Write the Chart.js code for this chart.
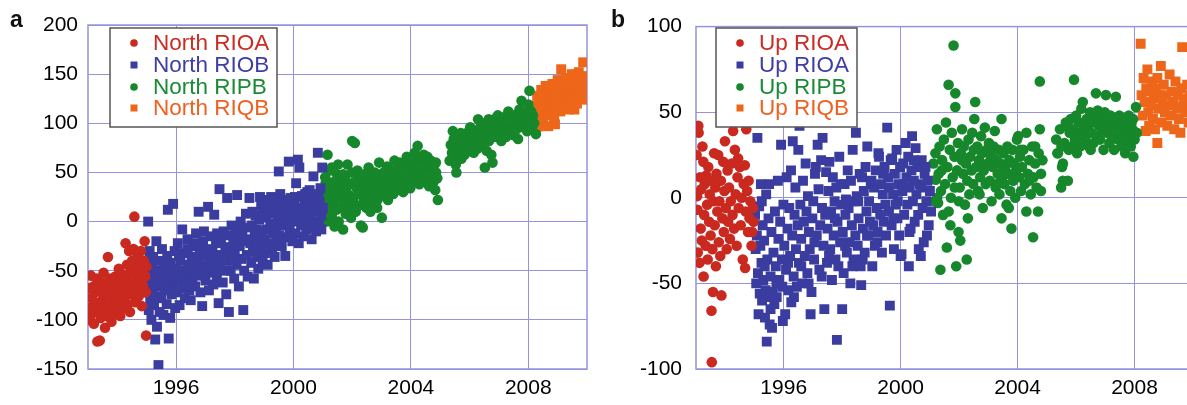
<!DOCTYPE html>
<html>
<head>
<meta charset="utf-8">
<script src="https://cdn.jsdelivr.net/npm/chart.js@4/dist/chart.umd.min.js"></script>
<style>
  html, body { margin: 0; padding: 0; background: #fff; overflow: hidden; width: 1187px; height: 405px; }
  .panel { position: absolute; top: 0; width: 600px; height: 405px; }
  .tag { position: absolute; top: 6px; font: bold 23px "Liberation Sans", Arial, sans-serif; color: #111; }
</style>
</head>
<body>
<div class="panel" style="left:0"><canvas id="chartA" width="600" height="405"></canvas></div>
<div class="panel" style="left:600px"><canvas id="chartB" width="600" height="405"></canvas></div>
<div class="tag" style="left:10px">a</div>
<div class="tag" style="left:611px">b</div>
<script>
// --- data: [decimal year, value] ---
var yearTicks = [1996, 2000, 2004, 2008];
var northLabels = ['North RIOA', 'North RIOB', 'North RIPB', 'North RIQB'];
var upLabels = ['Up RIOA', 'Up RIOA', 'Up RIPB', 'Up RIQB'];

var northRIOA = [[1993.03,-68],[1993.05,-88],[1993.07,-100],[1993.1,-55],[1993.12,-78],[1993.15,-93],[1993.18,-66],[1993.2,-104],[1993.22,-82],[1993.25,-72],[1993.28,-90],[1993.3,-58],[1993.32,-122],[1993.35,-85],[1993.38,-70],[1993.4,-121],[1993.43,-98],[1993.45,-62],[1993.48,-80],[1993.5,-92],[1993.53,-52],[1993.55,-74],[1993.58,-108],[1993.6,-86],[1993.63,-66],[1993.65,-96],[1993.68,-36],[1993.7,-76],[1993.73,-58],[1993.75,-88],[1993.78,-70],[1993.8,-102],[1993.83,-62],[1993.85,-82],[1993.88,-94],[1993.9,-68],[1993.93,-56],[1993.95,-78],[1993.98,-90],[1994.0,-64],[1994.03,-84],[1994.05,-48],[1994.08,-72],[1994.1,-96],[1994.13,-60],[1994.15,-80],[1994.18,-54],[1994.2,-88],[1994.23,-68],[1994.25,-76],[1994.28,-22],[1994.3,-58],[1994.33,-44],[1994.35,-84],[1994.38,-66],[1994.4,-30],[1994.43,-92],[1994.45,-52],[1994.48,-74],[1994.5,-40],[1994.53,-62],[1994.55,-28],[1994.58,5],[1994.6,-82],[1994.63,-48],[1994.65,-68],[1994.68,-36],[1994.7,-56],[1994.73,-76],[1994.75,-44],[1994.78,-60],[1994.8,-30],[1994.83,-86],[1994.85,-50],[1994.88,-66],[1994.9,-40],[1994.93,-20],[1994.95,-56],[1994.97,-72],[1994.98,-116],[1994.99,-46]];

var northRIOB = [[1995.02,-45],[1995.04,-72],[1995.05,0],[1995.07,-90],[1995.09,-58],[1995.1,-30],[1995.12,-80],[1995.14,-62],[1995.16,-100],[1995.18,-48],[1995.2,-70],[1995.22,-36],[1995.25,-85],[1995.27,-55],[1995.29,-120],[1995.31,-66],[1995.33,-20],[1995.35,-107],[1995.37,-76],[1995.4,-146],[1995.42,-50],[1995.44,-92],[1995.46,-64],[1995.48,-40],
  [1995.5,-78],[1995.52,-28],[1995.55,-60],[1995.57,-95],[1995.6,-45],[1995.62,-70],[1995.65,-52],[1995.68,-84],[1995.7,-35],[1995.72,12],[1995.75,-119],[1995.77,-62],[1995.8,-98],[1995.82,-42],[1995.85,-74],[1995.87,-55],[1995.9,18],[1995.92,-66],[1995.95,-30],[1995.97,-88],
  [1996.0,-48],[1996.03,-72],[1996.06,-22],[1996.09,-60],[1996.12,-85],[1996.15,-40],[1996.18,-56],[1996.21,-8],[1996.24,-68],[1996.27,-32],[1996.3,-78],[1996.33,-50],[1996.36,-62],[1996.39,-18],[1996.42,-44],[1996.45,-70],[1996.48,-54],
  [1996.5,-80],[1996.53,-36],[1996.56,-58],[1996.59,-25],[1996.62,-48],[1996.65,-66],[1996.68,-12],[1996.71,-40],[1996.74,-55],[1996.77,10],[1996.8,-30],[1996.83,-72],[1996.86,-45],[1996.89,-86],[1996.92,-20],[1996.95,-52],[1996.98,-35],
  [1997.0,-60],[1997.03,-28],[1997.06,-45],[1997.09,15],[1997.12,-70],[1997.15,-38],[1997.18,-15],[1997.21,-52],[1997.24,-30],[1997.27,-64],[1997.3,7],[1997.33,-42],[1997.36,-22],[1997.39,-56],[1997.42,-34],[1997.45,-83],[1997.48,33],
  [1997.5,-48],[1997.53,-18],[1997.56,-36],[1997.59,-62],[1997.62,-10],[1997.65,-40],[1997.68,-26],[1997.71,-74],[1997.74,24],[1997.77,-32],[1997.8,-92],[1997.83,-14],[1997.86,-50],[1997.89,-4],[1997.92,-38],[1997.95,-22],[1997.98,-58],
  [1998.0,-30],[1998.03,-8],[1998.06,-44],[1998.08,27],[1998.11,-16],[1998.14,-66],[1998.17,-25],[1998.2,0],[1998.23,-38],[1998.26,-12],[1998.29,-90],[1998.32,-50],[1998.35,-20],[1998.38,8],[1998.41,-34],[1998.44,-56],[1998.47,-6],
  [1998.5,24],[1998.53,-22],[1998.56,-42],[1998.59,-4],[1998.62,-30],[1998.65,-58],[1998.68,-14],[1998.71,6],[1998.74,-36],[1998.77,-20],[1998.8,-48],[1998.83,2],[1998.86,25],[1998.89,-26],[1998.92,-10],[1998.95,-40],[1998.98,12],
  [1999.0,-18],[1999.03,-32],[1999.06,4],[1999.09,-8],[1999.12,-44],[1999.15,14],[1999.18,-22],[1999.21,-2],[1999.24,25],[1999.27,-28],[1999.3,-12],[1999.33,8],[1999.36,-36],[1999.39,-6],[1999.42,18],[1999.45,-20],[1999.48,0],
  [1999.5,51],[1999.52,-14],[1999.55,28],[1999.58,6],[1999.6,-25],[1999.63,12],[1999.66,-4],[1999.69,20],[1999.72,-35],[1999.75,2],[1999.78,-16],[1999.81,14],[1999.84,61],[1999.87,-8],[1999.9,24],[1999.93,4],[1999.96,-20],[1999.98,10],
  [2000.0,0],[2000.03,18],[2000.06,-12],[2000.09,39],[2000.12,6],[2000.15,63],[2000.18,-22],[2000.2,55],[2000.23,14],[2000.26,-4],[2000.29,26],[2000.32,8],[2000.35,-15],[2000.38,20],[2000.41,2],[2000.44,-8],[2000.47,30],
  [2000.5,12],[2000.53,-6],[2000.56,22],[2000.59,4],[2000.62,-18],[2000.65,16],[2000.68,46],[2000.71,0],[2000.74,28],[2000.77,-10],[2000.8,10],[2000.83,70],[2000.86,-2],[2000.89,20],[2000.92,34],[2000.95,6],[2000.98,55],[2001.0,14],
  [1995.15,-40],[1995.45,-58],[1995.78,-48],[1996.1,-35],[1996.4,-28],[1996.7,-22],[1996.95,-10],[1997.2,-48],[1997.4,-12],[1997.7,-50],[1997.95,-40],[1998.15,-6],[1998.4,-18],[1998.6,10],[1998.75,-8],[1998.9,16],[1999.1,22],[1999.2,10],[1999.4,-4],[1999.55,15],[1999.7,5],[1999.85,22],[2000.05,25],[2000.25,12],[2000.4,28],[2000.55,32],[2000.7,18],[2000.85,24],[2000.95,-8],[2000.35,-2]];

var northRIPB = [[2001.02,30],[2001.05,10],[2001.08,45],[2001.11,22],[2001.14,0],[2001.16,68],[2001.19,36],[2001.22,15],[2001.25,52],[2001.28,28],[2001.31,5],[2001.34,40],[2001.37,20],[2001.4,-5],[2001.43,33],[2001.46,12],[2001.49,48],
  [2001.52,58],[2001.54,0],[2001.57,25],[2001.6,40],[2001.63,14],[2001.66,32],[2001.69,-8],[2001.72,20],[2001.75,45],[2001.78,8],[2001.81,30],[2001.84,58],[2001.87,18],[2001.9,38],[2001.93,26],[2001.96,4],[2001.99,50],
  [2002.0,82],[2002.03,22],[2002.06,40],[2002.09,80],[2002.12,10],[2002.15,34],[2002.18,52],[2002.21,16],[2002.24,28],[2002.27,44],[2002.3,-4],[2002.33,36],[2002.36,-6],[2002.39,24],[2002.42,48],[2002.45,30],[2002.48,14],
  [2002.5,40],[2002.53,20],[2002.56,55],[2002.59,32],[2002.62,10],[2002.65,46],[2002.68,26],[2002.71,38],[2002.74,18],[2002.77,50],[2002.8,30],[2002.83,42],[2002.86,22],[2002.89,35],[2002.92,60],[2002.95,28],[2002.98,44],
  [2003.01,4],[2003.04,38],[2003.07,50],[2003.1,26],[2003.13,44],[2003.16,34],[2003.19,56],[2003.22,22],[2003.25,40],[2003.28,48],[2003.31,30],[2003.34,52],[2003.37,36],[2003.4,28],[2003.44,62],[2003.47,42],
  [2003.5,46],[2003.53,32],[2003.56,54],[2003.59,40],[2003.62,60],[2003.65,36],[2003.68,50],[2003.71,44],[2003.74,30],[2003.77,58],[2003.8,48],[2003.83,38],[2003.86,66],[2003.89,52],[2003.92,42],[2003.95,56],[2003.98,34],
  [2004.01,50],[2004.04,62],[2004.07,40],[2004.1,56],[2004.13,70],[2004.16,46],[2004.19,58],[2004.23,77],[2004.26,52],[2004.29,38],[2004.32,64],[2004.35,48],[2004.38,58],[2004.41,42],[2004.44,68],[2004.47,54],
  [2004.5,60],[2004.53,44],[2004.56,66],[2004.59,50],[2004.62,36],[2004.65,56],[2004.68,62],[2004.71,46],[2004.74,54],[2004.77,40],[2004.8,58],[2004.83,32],[2004.86,50],[2004.9,44],[2004.92,22],
  [2005.32,62],[2005.36,78],[2005.4,70],[2005.43,92],[2005.46,84],[2005.5,66],[2005.53,58],[2005.55,50],[2005.58,76],[2005.62,88],[2005.65,70],[2005.68,80],[2005.72,64],[2005.76,74],
  [2005.8,84],[2005.83,68],[2005.86,78],[2005.9,90],[2005.94,72],[2005.98,82],[2006.02,96],[2006.06,76],[2006.1,86],[2006.14,70],[2006.18,92],[2006.22,80],[2006.26,74],[2006.29,104],
  [2006.32,88],[2006.36,96],[2006.4,78],[2006.44,100],[2006.48,84],[2006.52,55],[2006.55,92],[2006.58,72],[2006.62,98],[2006.66,82],[2006.7,90],[2006.74,68],[2006.78,60],[2006.8,94],
  [2006.84,104],[2006.88,86],[2006.92,96],[2006.96,108],[2007.0,90],[2007.04,100],[2007.08,82],[2007.12,96],[2007.16,106],[2007.2,92],[2007.24,86],[2007.28,100],
  [2007.32,112],[2007.36,94],[2007.4,104],[2007.44,98],[2007.48,88],[2007.52,108],[2007.56,100],[2007.6,94],[2007.65,84],[2007.68,106],[2007.72,98],[2007.77,123],[2007.8,104],[2007.84,96],[2007.88,110],[2007.92,100],[2007.96,92],[2008.0,119],[2008.04,133],[2008.08,104],[2008.12,96],[2008.16,108],[2008.2,100],[2008.26,89],
  [2001.1,40],[2001.3,55],[2001.45,25],[2001.7,48],[2001.95,15],[2002.2,42],[2002.4,20],[2002.6,48],[2002.85,14],[2003.1,46],[2003.3,40],[2003.55,44],[2003.75,50],[2003.9,60],[2004.1,66],[2004.3,56],[2004.6,48],[2004.85,60],[2005.45,74],[2005.7,90],[2006.0,84],[2006.4,90],[2006.65,104],[2007.0,98],[2007.35,102],[2007.7,114],[2008.1,112]];

var northRIQB = [[2008.22,104],[2008.25,118],[2008.28,96],[2008.3,128],[2008.33,110],[2008.36,97],[2008.38,122],[2008.41,106],[2008.44,134],[2008.47,115],[2008.5,100],[2008.53,126],[2008.56,112],[2008.59,138],[2008.62,118],[2008.65,128],[2008.68,97],[2008.7,108],[2008.73,132],[2008.76,120],[2008.79,112],[2008.82,140],[2008.85,126],[2008.88,104],[2008.91,99],[2008.94,130],[2008.97,118],[2009.0,144],[2009.03,124],[2009.06,134],[2009.09,112],[2009.12,155],[2009.15,128],[2009.18,138],[2009.21,118],[2009.24,130],[2009.27,146],[2009.3,122],[2009.33,136],[2009.36,126],[2009.39,114],[2009.42,142],[2009.45,132],[2009.48,150],[2009.51,124],[2009.54,138],[2009.57,114],[2009.6,146],[2009.63,130],[2009.66,120],[2009.69,140],[2009.72,152],[2009.75,128],[2009.78,136],[2009.81,144],[2009.84,124],[2009.87,162],[2009.9,134],[2009.93,148],[2009.96,140],[2009.98,126]];

var upRIOA = [[1993.02,25],[1993.04,1],[1993.05,-7],[1993.06,-32],[1993.08,42],[1993.09,38],[1993.12,-38],[1993.14,12],[1993.16,-18],[1993.18,5],[1993.2,-25],[1993.22,30],[1993.25,21],[1993.26,-46],[1993.28,-10],[1993.3,8],[1993.33,-28],[1993.35,13],[1993.38,-4],[1993.4,-36],[1993.42,18],[1993.45,-14],[1993.47,2],[1993.5,-22],[1993.52,10],[1993.53,-66],[1993.54,-96],[1993.56,-30],[1993.58,-55],[1993.6,-2],[1993.62,26],[1993.64,-16],[1993.66,6],[1993.68,-40],[1993.7,14],[1993.73,-8],[1993.76,25],[1993.78,-26],[1993.8,-2],[1993.83,-34],[1993.85,10],[1993.87,-57],[1993.9,-12],[1993.93,21],[1993.95,-20],[1993.97,4],[1993.99,33],[1994.02,-6],[1994.05,-30],[1994.08,16],[1994.1,-14],[1994.13,6],[1994.16,-24],[1994.19,-2],[1994.22,20],[1994.25,-10],[1994.27,39],[1994.3,-18],[1994.33,28],[1994.36,2],[1994.39,-28],[1994.42,12],[1994.44,23],[1994.46,-6],[1994.5,18],[1994.53,-16],[1994.56,0],[1994.6,-36],[1994.63,8],[1994.67,19],[1994.68,-41],[1994.7,-8],[1994.72,40],[1994.75,4],[1994.78,-20],[1994.8,10],[1994.83,-12],[1994.86,-2],[1994.9,-28],[1994.92,-20],[1994.95,-6],[1994.97,-14]];

var upRIOB = [[1995.02,-10],[1995.04,-30],[1995.06,-50],[1995.08,-22],[1995.1,35],[1995.12,-44],[1995.14,-68],[1995.16,-5],[1995.18,-56],[1995.2,-28],[1995.22,8],[1995.24,-38],[1995.26,-60],[1995.28,-16],[1995.3,-48],[1995.33,-25],[1995.36,-70],[1995.38,-54],[1995.4,2],[1995.42,-84],[1995.44,-36],[1995.46,-58],[1995.48,-12],
  [1995.5,8],[1995.52,-74],[1995.55,-46],[1995.58,-20],[1995.6,-76],[1995.62,-55],[1995.65,-32],[1995.68,-62],[1995.7,-8],[1995.73,-40],[1995.76,-58],[1995.8,10],[1995.82,-24],[1995.85,-48],[1995.88,-14],[1995.91,31],[1995.94,-36],[1995.97,-72],[1995.99,-4],
  [1996.02,-28],[1996.05,-68],[1996.08,-42],[1996.1,12],[1996.13,-18],[1996.16,-54],[1996.19,-6],[1996.22,-34],[1996.25,16],[1996.26,-61],[1996.29,-22],[1996.31,33],[1996.34,-46],[1996.37,-10],[1996.4,6],[1996.42,-30],[1996.45,-52],[1996.48,-16],
  [1996.5,28],[1996.52,-38],[1996.54,42],[1996.57,-4],[1996.6,-24],[1996.63,-50],[1996.66,10],[1996.69,-14],[1996.72,-34],[1996.75,20],[1996.78,-8],[1996.81,-44],[1996.83,1],[1996.86,-20],[1996.89,-30],[1996.92,-68],[1996.95,-55],[1996.98,-12],
  [1997.01,-2],[1997.04,-36],[1997.07,14],[1997.1,18],[1997.13,-22],[1997.16,31],[1997.19,5],[1997.22,-42],[1997.25,-16],[1997.28,22],[1997.31,-6],[1997.33,35],[1997.36,-28],[1997.39,-65],[1997.42,-10],[1997.45,15],[1997.48,-38],
  [1997.5,-18],[1997.53,4],[1997.56,21],[1997.59,-30],[1997.62,-8],[1997.65,-48],[1997.68,12],[1997.71,-22],[1997.74,-2],[1997.77,-36],[1997.8,6],[1997.82,-83],[1997.84,-14],[1997.87,-40],[1997.9,24],[1997.93,-26],[1997.96,-4],[1998.0,-65],
  [1998.02,-20],[1998.05,-44],[1998.08,8],[1998.11,-10],[1998.13,-1],[1998.16,-32],[1998.19,16],[1998.22,-6],[1998.25,-26],[1998.28,-50],[1998.3,10],[1998.33,-16],[1998.36,28],[1998.39,-36],[1998.42,-2],[1998.45,-22],[1998.47,38],
  [1998.5,1],[1998.53,-28],[1998.56,-12],[1998.6,14],[1998.63,-40],[1998.65,-51],[1998.68,12],[1998.71,-18],[1998.74,4],[1998.77,-32],[1998.8,18],[1998.83,-8],[1998.86,30],[1998.89,-22],[1998.92,-2],[1998.95,-14],[1998.98,8],
  [1999.03,-40],[1999.06,-16],[1999.09,6],[1999.12,-28],[1999.15,16],[1999.18,-6],[1999.21,-20],[1999.24,26],[1999.26,24],[1999.3,-10],[1999.33,8],[1999.36,-32],[1999.39,2],[1999.42,-14],[1999.45,18],[1999.48,-4],
  [1999.5,-22],[1999.54,41],[1999.57,12],[1999.6,-8],[1999.63,-63],[1999.66,22],[1999.69,-16],[1999.71,23],[1999.74,2],[1999.77,-30],[1999.8,14],[1999.83,-4],[1999.86,28],[1999.89,-12],[1999.92,8],[1999.95,-22],[1999.98,18],
  [2000.0,-34],[2000.03,-33],[2000.06,4],[2000.09,20],[2000.12,-10],[2000.17,32],[2000.2,12],[2000.23,-4],[2000.26,24],[2000.28,-40],[2000.31,6],[2000.34,-18],[2000.37,16],[2000.39,36],[2000.42,-2],[2000.45,10],[2000.48,-14],
  [2000.51,29],[2000.54,2],[2000.57,18],[2000.6,-10],[2000.62,-30],[2000.65,8],[2000.69,-34],[2000.72,22],[2000.75,-6],[2000.79,-26],[2000.82,14],[2000.85,18],[2000.88,-2],[2000.92,10],[2000.96,-16],[2001.0,4],[2001.04,-8],
  [1995.25,-2],[1995.35,-40],[1995.55,-65],[1995.75,-50],[1995.95,-52],[1996.15,-38],[1996.35,-58],[1996.6,-40],[1996.85,-50],[1997.05,-26],[1997.3,-46],[1997.55,-34],[1997.75,-12],[1997.95,8],[1998.1,-28],[1998.35,-40],[1998.55,-2],[1998.7,-36],[1998.85,-22],[1999.0,10],[1999.2,-26],[1999.4,14],[1999.6,6],[1999.75,-12],[1999.9,-2],[2000.1,8],[2000.3,-20],[2000.45,22],[2000.7,6],[2000.9,-22]];

var upRIPB = [[2001.12,20],[2001.15,-2],[2001.19,26],[2001.2,10.5],[2001.24,40],[2001.28,-3],[2001.3,14],[2001.33,30],[2001.36,-42],[2001.38,4],[2001.42,22],[2001.45,-10],[2001.48,34],
  [2001.52,8],[2001.55,44],[2001.58,-29],[2001.6,18],[2001.64,66],[2001.64,-8],[2001.68,28],[2001.72,0],[2001.75,38],[2001.78,12],[2001.81,89],[2001.84,24],[2001.87,61],[2001.87,53],[2001.9,-40],[2001.93,16],[2001.96,32],[2001.98,-20],[2001.99,-2],
  [2002.02,6],[2002.04,-25],[2002.06,26],[2002.1,40],[2002.13,14],[2002.16,30],[2002.2,-4],[2002.23,20],[2002.26,-36],[2002.28,10],[2002.32,34],[2002.35,2],[2002.38,24],[2002.42,16],[2002.45,38],[2002.48,8],
  [2002.52,46],[2002.55,56],[2002.58,18],[2002.62,30],[2002.65,4],[2002.68,22],[2002.72,12],[2002.75,36],[2002.78,26],[2002.81,-6],[2002.84,16],[2002.88,41],[2002.91,8],[2002.94,28],[2002.97,20],
  [2003.02,32],[2003.05,10],[2003.08,24],[2003.11,-2],[2003.15,18],[2003.18,30],[2003.22,39],[2003.25,6],[2003.28,22],[2003.32,14],[2003.35,28],[2003.38,2],[2003.42,20],[2003.45,46],[2003.45,-12],[2003.48,12],
  [2003.52,26],[2003.55,8],[2003.58,18],[2003.62,-4],[2003.65,30],[2003.68,14],[2003.72,22],[2003.75,4],[2003.79,-18],[2003.82,28],[2003.85,10],[2003.88,20],[2003.92,0],[2003.95,16],[2003.98,34],
  [2004.02,36],[2004.05,12],[2004.08,24],[2004.12,4],[2004.15,18],[2004.2,28],[2004.25,8],[2004.3,38],[2004.3,-8],[2004.35,14],[2004.4,22],[2004.45,2],[2004.5,30],[2004.53,-23],[2004.55,12],[2004.6,20],[2004.65,6],[2004.7,-8],[2004.72,26],[2004.76,68],[2004.76,40],[2004.8,14],[2004.85,22],
  [2005.32,34],[2005.36,26],[2005.38,26],[2005.45,40],[2005.49,6],[2005.52,18],[2005.55,10],[2005.55,20],[2005.6,32],[2005.65,44],[2005.72,10],[2005.75,28],[2005.78,38],
  [2005.82,46],[2005.86,30],[2005.9,40],[2005.93,69],[2005.96,34],[2006.0,48],[2006.03,26],[2006.06,38],[2006.1,44],[2006.14,30],[2006.18,52],[2006.22,36],[2006.23,56],[2006.27,42],
  [2006.32,34],[2006.36,46],[2006.4,40],[2006.44,30],[2006.48,50],[2006.52,38],[2006.56,44],[2006.6,32],[2006.64,48],[2006.68,61],[2006.72,36],[2006.74,51],[2006.78,42],
  [2006.82,34],[2006.86,46],[2006.9,40],[2006.94,28],[2006.98,50],[2007.02,60],[2007.06,38],[2007.1,44],[2007.14,32],[2007.18,48],[2007.22,36],[2007.26,42],[2007.3,28],
  [2007.36,59],[2007.4,44],[2007.44,34],[2007.48,48],[2007.52,38],[2007.56,30],[2007.6,46],[2007.64,40],[2007.68,26],[2007.72,42],[2007.76,36],[2007.8,48],[2007.84,32],[2007.87,30],[2007.9,44],[2007.93,40],[2007.96,24],[2008.0,34],[2008.05,53],[2008.08,38],
  [2001.25,0],[2001.4,16],[2001.7,-16],[2001.85,6],[2002.1,22],[2002.3,-12],[2002.5,28],[2002.7,2],[2002.9,18],[2003.1,26],[2003.3,8],[2003.5,16],[2003.7,-6],[2003.9,12],[2004.1,28],[2004.4,10],[2004.6,30],[2004.8,4],[2005.5,30],[2005.7,42],[2006.1,36],[2006.5,28],[2006.9,46],[2007.2,40],[2007.5,40],[2007.7,34],[2007.95,46]];

var upRIQB = [[2008.21,90],[2008.24,60],[2008.28,48],[2008.31,70],[2008.34,56],[2008.38,39],[2008.4,64],[2008.44,75],[2008.47,50],[2008.5,42],[2008.53,62],[2008.56,54],[2008.6,68],[2008.63,46],[2008.66,58],[2008.7,40],[2008.73,64],[2008.78,70],[2008.78,32],[2008.82,52],[2008.86,60],[2008.9,77],[2008.93,44],[2008.96,56],[2009.0,66],[2009.04,50],[2009.08,60],[2009.12,42],[2009.16,54],[2009.2,72],[2009.24,48],[2009.28,62],[2009.32,56],[2009.36,40],[2009.4,68],[2009.44,52],[2009.48,60],[2009.52,46],[2009.57,38],[2009.6,64],[2009.63,88],[2009.66,54],[2009.7,58],[2009.75,50],[2009.8,66],[2009.85,44],[2009.9,60],[2009.95,52]];

// colours / shapes of the four series
var seriesColors = ['#c9291f', '#3a3d9f', '#16872b', '#ee6619'];
var textColors = ['#cc2b24', '#3e3ea6', '#1a8a35', '#f0601f'];
var seriesShapes = ['circle', 'rect', 'circle', 'rect'];
var gridColor = '#9494dc';
var FONT = '"Liberation Sans", Arial, Helvetica, sans-serif';

// frame round the plot + legend box inside the plot
var framePlugin = {
    id: 'frameLegend',
    beforeDatasetsDraw: function (chart) {
        var a = chart.chartArea, ctx = chart.ctx;
        ctx.save();
        ctx.strokeStyle = gridColor;
        ctx.lineWidth = 1.5;
        ctx.strokeRect(a.left, a.top, a.right - a.left, a.bottom - a.top);
        ctx.restore();
    },
    afterDraw: function (chart, args, opts) {
        var ctx = chart.ctx, b = opts.box;
        ctx.save();
        ctx.fillStyle = '#fff';
        ctx.fillRect(b[0], b[1], b[2], b[3]);
        ctx.strokeStyle = '#555';
        ctx.lineWidth = 1.5;
        ctx.strokeRect(b[0], b[1], b[2], b[3]);
        ctx.font = '22.5px ' + FONT;
        ctx.textBaseline = 'middle';
        chart.data.datasets.forEach(function (ds, i) {
            var y = opts.rowY[i];
            ctx.fillStyle = ds.backgroundColor;
            if (ds.pointStyle === 'circle') {
                ctx.beginPath();
                ctx.arc(opts.markX, y, 3.8, 0, Math.PI * 2);
                ctx.fill();
            } else {
                ctx.fillRect(opts.markX - 3.5, y - 3.5, 7, 7);
            }
            ctx.fillStyle = textColors[i];
            ctx.fillText(ds.label, opts.textX, y + 1);
        });
        ctx.restore();
    }
};

function makePanel(id, series, labels, yMin, yMax, yStep, yWidth, padRight, legendOpts) {
    var datasets = series.map(function (pts, i) {
        return {
            label: labels[i],
            data: pts.map(function (p) { return { x: p[0], y: p[1] }; }),
            backgroundColor: seriesColors[i],
            borderColor: seriesColors[i],
            borderWidth: 0,
            pointStyle: seriesShapes[i],
            pointRadius: seriesShapes[i] === 'rect' ? 7 : 5.3
        };
    });
    return new Chart(document.getElementById(id), {
        type: 'scatter',
        data: { datasets: datasets },
        options: {
            responsive: false,
            animation: false,
            events: [],
            layout: { padding: { top: 25, right: padRight, left: 0, bottom: 0 } },
            plugins: {
                legend: { display: false },
                tooltip: { enabled: false },
                frameLegend: legendOpts
            },
            scales: {
                x: {
                    type: 'linear',
                    min: 1993,
                    max: 2010,
                    afterBuildTicks: function (axis) {
                        axis.ticks = yearTicks.map(function (v) { return { value: v }; });
                    },
                    afterFit: function (scale) { scale.height = 36; },
                    grid: { color: gridColor, lineWidth: 1, drawTicks: false },
                    border: { display: false },
                    ticks: {
                        autoSkip: false,
                        maxRotation: 0,
                        padding: 7,
                        color: '#000',
                        font: { family: FONT, size: 21 },
                        callback: function (v) { return String(v); }
                    }
                },
                y: {
                    min: yMin,
                    max: yMax,
                    afterFit: function (scale) { scale.width = yWidth; },
                    grid: { color: gridColor, lineWidth: 1, drawTicks: false },
                    border: { display: false },
                    ticks: {
                        stepSize: yStep,
                        padding: yWidth === 88 ? 10 : 14,
                        color: '#000',
                        font: { family: FONT, size: 21 }
                    }
                }
            }
        },
        plugins: [framePlugin]
    });
}

makePanel('chartA', [northRIOA, northRIOB, northRIPB, northRIQB], northLabels,
    -150, 200, 50, 88, 13,
    { box: [110, 28, 167, 99], markX: 134, textX: 153, rowY: [43, 65, 87, 108] });

makePanel('chartB', [upRIOA, upRIOB, upRIPB, upRIQB], upLabels,
    -100, 100, 50, 96, 4,
    { box: [116, 28, 141, 99], markX: 140, textX: 159, rowY: [43, 65, 87, 108] });
</script>
</body>
</html>
